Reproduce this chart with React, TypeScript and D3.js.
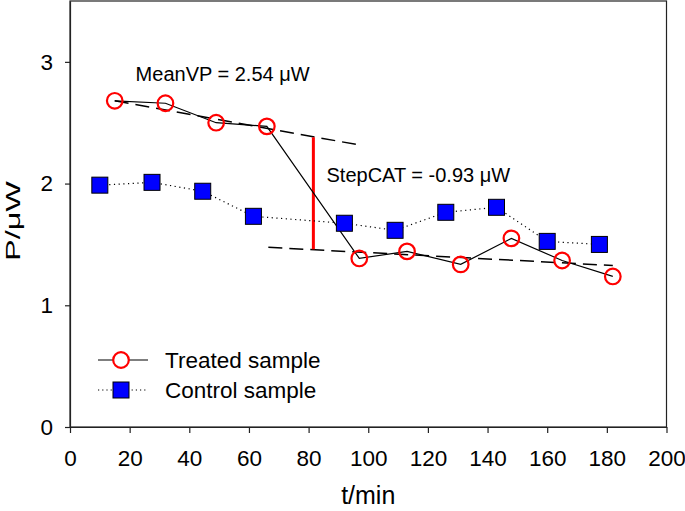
import React, { useEffect, useRef } from "react";
import * as d3 from "d3";

const treatedT = [15, 32, 49, 66, 97, 113, 131, 148, 165, 182];
const treatedP = [2.68, 2.66, 2.5, 2.47, 1.385, 1.443, 1.336, 1.55, 1.368, 1.237];
const controlT = [10, 27.5, 44.5, 61.5, 92, 109, 126, 143, 160, 177.5];
const controlP = [1.987, 2.01, 1.937, 1.731, 1.674, 1.616, 1.764, 1.805, 1.525, 1.5];

const meanLineT = [15, 97];
const meanLineP = [2.68, 2.317];
const stepLineT = [66.5, 182];
const stepLineP = [1.476, 1.327];
const stepBarT = [81.6, 81.6];
const stepBarP = [2.38, 1.46];

const xTicks = [0, 20, 40, 60, 80, 100, 120, 140, 160, 180, 200];
const yTicks = [0, 1, 2, 3];

const annotations = [
  { t: 22, p: 2.84, text: "MeanVP = 2.54 μW" },
  { t: 86, p: 2.01, text: "StepCAT = -0.93 μW" },
];
const legendItems = ["Treated sample", "Control sample"];

const W = 685, H = 511;
const L = 70, R = 666.5, T = 1, B = 427;
const FONT = "'Liberation Sans', Arial, sans-serif";

export default function App() {
  const ref = useRef<SVGSVGElement>(null);
  useEffect(() => {
    const svg = d3.select(ref.current);
    svg.selectAll("*").remove();
    const x = d3.scaleLinear().domain([0, 200]).range([L, R]);
    const y = d3.scaleLinear().domain([0, 3.5]).range([B, T]);

    svg.append("rect").attr("x", 0).attr("y", 0).attr("width", W).attr("height", H).attr("fill", "#fff");
    svg.append("rect").attr("x", L).attr("y", T).attr("width", R - L).attr("height", B - T)
      .attr("fill", "none").attr("stroke", "#222").attr("stroke-width", 1.2);

    const xa = svg.append("g").attr("transform", `translate(0,${B})`)
      .call(d3.axisBottom(x).tickValues(xTicks).tickFormat(d3.format("d")).tickSize(6).tickPadding(17).tickSizeOuter(0));
    const ya = svg.append("g").attr("transform", `translate(${L},0)`)
      .call(d3.axisLeft(y).tickValues(yTicks).tickFormat(d3.format("d")).tickSize(5).tickPadding(12).tickSizeOuter(0));
    [xa, ya].forEach((g) => {
      g.select(".domain").attr("stroke", "#222").attr("stroke-width", 1.2);
      g.selectAll("line").attr("stroke", "#222").attr("stroke-width", 1.2);
      g.selectAll("text").attr("font-family", FONT).attr("font-size", 22.5).attr("fill", "#000");
    });

    const line = d3.line<[number, number]>().x((d) => x(d[0])).y((d) => y(d[1]));
    const zip = (a: number[], b: number[]) => a.map((v, i) => [v, b[i]] as [number, number]);

    // dashed fit lines
    svg.append("path").attr("d", line(zip(meanLineT, meanLineP))!).attr("fill", "none")
      .attr("stroke", "#000").attr("stroke-width", 1.5).attr("stroke-dasharray", "14,7");
    svg.append("path").attr("d", line(zip(stepLineT, stepLineP))!).attr("fill", "none")
      .attr("stroke", "#000").attr("stroke-width", 1.5).attr("stroke-dasharray", "14,7");
    // red step bar
    svg.append("path").attr("d", line(zip(stepBarT, stepBarP))!).attr("fill", "none")
      .attr("stroke", "#ff0000").attr("stroke-width", 3);

    // control series
    svg.append("path").attr("d", line(zip(controlT, controlP))!).attr("fill", "none")
      .attr("stroke", "#000").attr("stroke-width", 1.2).attr("stroke-dasharray", "1.2,3.5");
    // treated series line
    svg.append("path").attr("d", line(zip(treatedT, treatedP))!).attr("fill", "none")
      .attr("stroke", "#000").attr("stroke-width", 1.2);

    const s = 16;
    svg.append("g").selectAll("rect").data(zip(controlT, controlP)).join("rect")
      .attr("x", (d) => x(d[0]) - s / 2).attr("y", (d) => y(d[1]) - s / 2)
      .attr("width", s).attr("height", s).attr("fill", "#0000ff").attr("stroke", "#000").attr("stroke-width", 1);
    svg.append("g").selectAll("circle").data(zip(treatedT, treatedP)).join("circle")
      .attr("cx", (d) => x(d[0])).attr("cy", (d) => y(d[1])).attr("r", 7.8)
      .attr("fill", "none").attr("stroke", "#ff0000").attr("stroke-width", 2.2);

    // annotations
    svg.append("g").selectAll("text").data(annotations).join("text")
      .attr("x", (d) => x(d.t)).attr("y", (d) => y(d.p)).text((d) => d.text)
      .attr("font-family", FONT).attr("font-size", 20).attr("fill", "#000");

    // legend
    const lg = svg.append("g");
    legendItems.forEach((name, i) => {
      const cy = 360 + i * 30;
      lg.append("line").attr("x1", 98).attr("x2", 148).attr("y1", cy).attr("y2", cy)
        .attr("stroke", "#000").attr("stroke-width", 1.2)
        .attr("stroke-dasharray", i === 0 ? null : "1.2,3");
      if (i === 0) {
        lg.append("circle").attr("cx", 121).attr("cy", cy).attr("r", 7.8)
          .attr("fill", "#fff").attr("stroke", "#ff0000").attr("stroke-width", 2.2);
      } else {
        lg.append("rect").attr("x", 121 - 8).attr("y", cy - 8).attr("width", 16).attr("height", 16)
          .attr("fill", "#0000ff").attr("stroke", "#000");
      }
      lg.append("text").attr("x", 165).attr("y", cy).attr("dy", "0.35em").text(name)
        .attr("font-family", FONT).attr("font-size", 22.5).attr("fill", "#000");
    });

    // axis titles
    svg.append("text").attr("x", (L + R) / 2).attr("y", 504).attr("text-anchor", "middle")
      .text("t/min").attr("font-family", FONT).attr("font-size", 25);
    svg.append("text").attr("transform", `translate(20,221) rotate(-90)`)
      .attr("text-anchor", "middle").attr("textLength", 80).attr("lengthAdjust", "spacingAndGlyphs")
      .text("P/μW").attr("font-family", FONT).attr("font-size", 21);
  }, []);

  return (
    <svg ref={ref} width={W} height={H}
      style={{ position: "absolute", left: 0, top: 0, display: "block" }} />
  );
}
